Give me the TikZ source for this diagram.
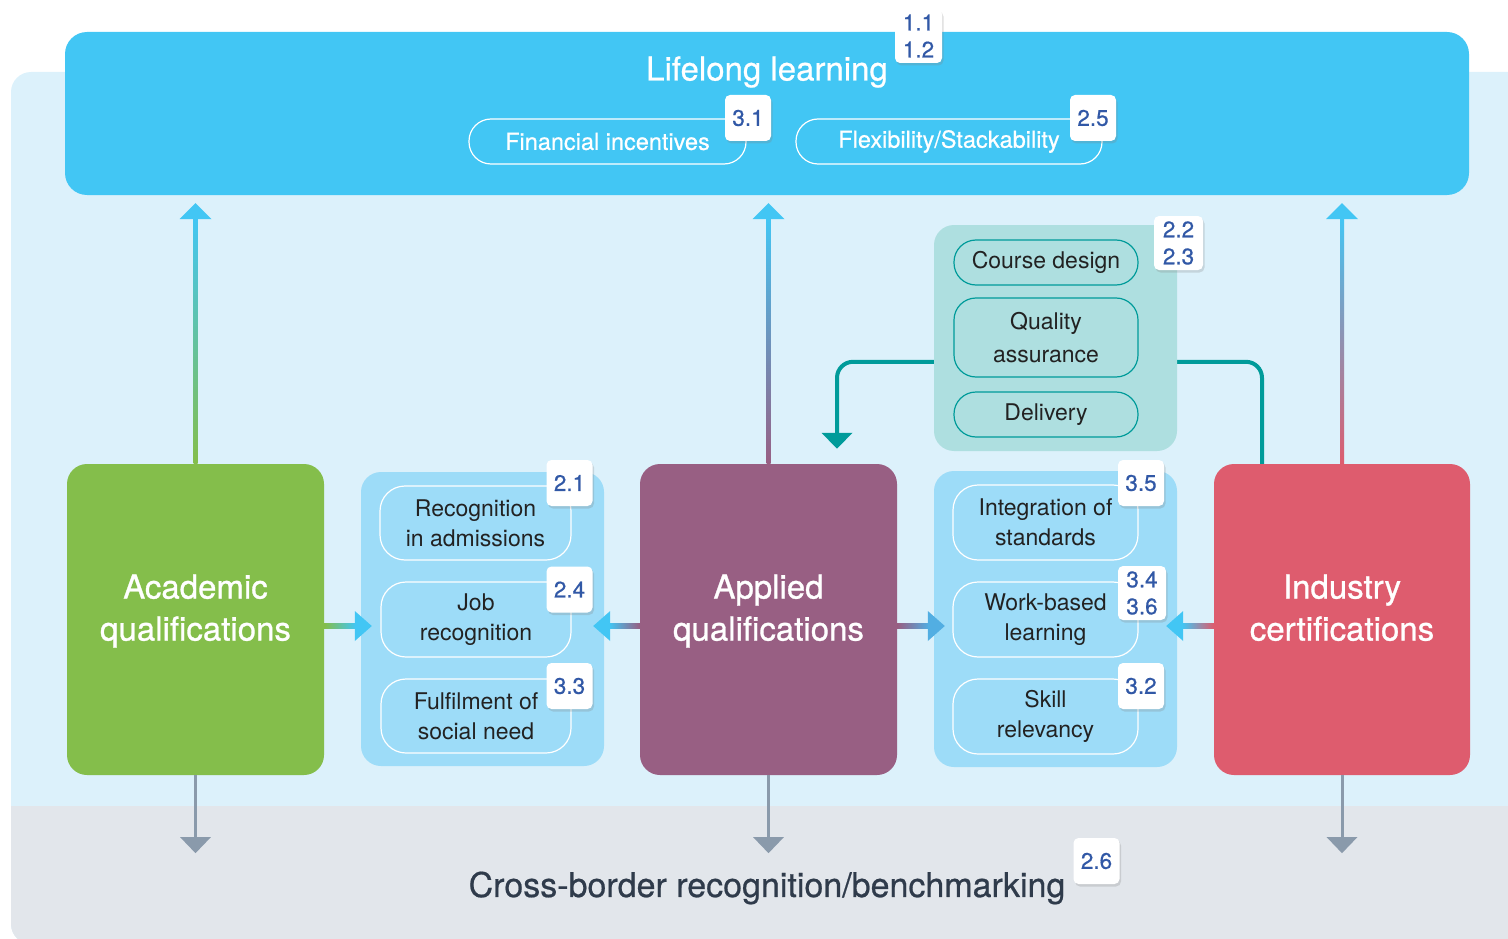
\documentclass[tikz,border=0pt]{standalone}
\usepackage{fontspec}
\setmainfont{TeX Gyre Heros}
\newfontface\medf[FakeBold=0.6]{TeX Gyre Heros}
\newfontface\semif[FakeBold=0.9]{TeX Gyre Heros}
\usetikzlibrary{shadows,arrows.meta,calc}
\definecolor{lifec}{HTML}{42C6F4}
\definecolor{bgblue}{HTML}{DCF1FB}
\definecolor{bggray}{HTML}{E2E6EB}
\definecolor{acadc}{HTML}{84BE4B}
\definecolor{applc}{HTML}{985F83}
\definecolor{indc}{HTML}{DE5C6E}
\definecolor{panelc}{HTML}{9DDCF8}
\definecolor{tealbox}{HTML}{AEDFE0}
\definecolor{tealline}{HTML}{009B9A}
\definecolor{badgec}{HTML}{3158A6}
\definecolor{darktxt}{HTML}{222222}
\definecolor{bottomtxt}{HTML}{2F3B4B}
\definecolor{grayarr}{HTML}{8A9AAB}
\definecolor{midblue}{HTML}{52AEE2}
\tikzset{
  bigbox/.style={rectangle, rounded corners=20pt, minimum width=257pt,
    minimum height=311pt, inner sep=0pt},
  bigtxt/.style={text=white, align=center, inner sep=0pt, text depth=0pt,
    font=\fontsize{33}{42}\semif},
  panel/.style={rectangle, rounded corners=20pt, inner sep=0pt},
  pillw/.style={rectangle, rounded corners=22pt, draw=white, line width=1.2pt,
    text=white, minimum height=45pt, inner sep=0pt, font=\fontsize{23.5}{28}\medf},
  pillp/.style={rectangle, rounded corners=25pt, draw=white, line width=1.2pt,
    text=darktxt, align=center, minimum width=190pt, minimum height=75pt, inner sep=0pt,
    font=\fontsize{23}{30}\selectfont},
  pillt/.style={rectangle, rounded corners=22pt, draw=tealline, line width=1.2pt,
    text=darktxt, align=center, minimum width=184pt, inner sep=0pt,
    font=\fontsize{23}{33}\selectfont},
  badge/.style={rectangle, rounded corners=5pt, fill=white, text=badgec, align=center,
    minimum width=46pt, minimum height=46pt, inner sep=0pt,
    font=\fontsize{22.5}{27}\medf,
    drop shadow={shadow xshift=1.5pt, shadow yshift=-2.5pt, opacity=0.25}},
  grayarrow/.style={draw=grayarr, line width=3pt, -{Triangle[width=30pt,length=16pt]}},
  tealarrow/.style={draw=tealline, line width=4pt, rounded corners=16pt,
    -{Triangle[width=30pt,length=16pt]}},
}
\begin{document}
\begin{tikzpicture}[x=1pt,y=-1pt]
\useasboundingbox (0,0) rectangle (1508,939);
% background
\fill[bgblue, rounded corners=20pt] (11,72) rectangle (1540,944);
\begin{scope}
  \clip[rounded corners=20pt] (11,72) rectangle (1540,944);
  \fill[bggray] (0,806) rectangle (1600,1000);
\end{scope}

% top box
\node[rectangle, rounded corners=22pt, fill=lifec, minimum width=1404pt, minimum height=163pt, inner sep=0pt] (life) at (767,113.5) {};
\node[text=white, font=\fontsize{33}{40}\medf, inner sep=0pt] (lifet) at (767,72) {Lifelong learning};
\node[pillw, minimum width=277pt] (fin) at (607.5,141.5) {Financial incentives};
\node[pillw, minimum width=306pt] (flex) at (949,141.5) {Flexibility/Stackability};
\node[badge, minimum width=47pt, minimum height=54pt] (b11) at (918.5,36) {1.1\\1.2};
\node[badge] (b31) at (748,118) {3.1};
\node[badge] (b25) at (1093,118) {2.5};

% main boxes
\node[bigbox, fill=acadc] (acad) at (195.5,619.5) {};
\node[bigbox, fill=applc] (appl) at (768.5,619.5) {};
\node[bigbox, fill=indc, minimum width=256pt] (ind) at (1342,619.5) {};
\node[bigtxt] (acadl) at ($(acad.center)+(0,-12)$) {Academic\\qualifications};
\node[bigtxt] (appll) at ($(appl.center)+(0,-12)$) {Applied\\qualifications};
\node[bigtxt] (indl) at ($(ind.center)+(0,-12)$) {Industry\\certifications};

% teal connector (behind teal box)
\coordinate (tstart) at ($(ind.north)+(-80,0)$);
\coordinate (tend) at ($(appl.north)+(68.5,-15)$);
\draw[tealarrow] (tstart) -- ($(tstart)+(0,-102)$) -- ($(tend)+(0,-87)$) -- (tend);

% panels
\node[panel, fill=panelc, minimum width=243pt, minimum height=294pt] (lp) at (482.5,619) {};
\node[panel, fill=panelc, minimum width=243pt, minimum height=296pt] (rp) at (1055.5,619) {};
\node[panel, fill=tealbox, minimum width=243pt, minimum height=226pt] (tp) at (1055.5,338) {};

% left panel pills
\node[pillp, minimum width=191pt, minimum height=74pt] (rec) at (475.5,523) {Recognition\\in admissions};
\node[pillp] (job) at (476,619.5) {Job\\recognition};
\node[pillp, minimum height=74pt] (ful) at (476,716) {Fulfilment of\\social need};
\node[badge] (b21) at (569.5,483) {2.1};
\node[badge] (b24) at (569.5,589.5) {2.4};
\node[badge] (b33) at (569.5,686) {3.3};

% right panel pills
\node[pillp, minimum width=185pt] (integ) at (1045.5,522.5) {Integration of\\standards};
\node[pillp, minimum width=185pt] (work) at (1045.5,619.5) {Work-based\\learning};
\node[pillp, minimum width=185pt] (skill) at (1045.5,716.5) {Skill\\relevancy};
\node[badge] (b35) at (1141,483) {3.5};
\node[badge, minimum width=48pt, minimum height=54pt] (b34) at (1142,593) {3.4\\3.6};
\node[badge] (b32) at (1141,686) {3.2};

% teal panel pills
\node[pillt, minimum height=45pt] (course) at (1046,262.5) {Course design};
\node[pillt, minimum height=79pt] (qa) at (1046,337.5) {Quality\\assurance};
\node[pillt, minimum height=45pt] (deliv) at (1046,414.5) {Delivery};
\node[badge, minimum width=49pt, minimum height=54pt] (b22) at (1178.5,243) {2.2\\2.3};

% up arrows (gradient)
\foreach \bx/\bc in {acad/acadc, appl/applc, ind/indc}{
  \coordinate (tip) at ($(\bx.north |- life.south)+(0,8)$);
  \shade[bottom color=\bc, top color=lifec] ($(\bx.north)+(-2,0)$) rectangle ($(tip)+(2,15)$);
  \fill[lifec] ($(tip)+(-16,16)$) -- (tip) -- ($(tip)+(16,16)$) -- cycle;
}

% horizontal arrows
\coordinate (h1) at ($(acad.east)+(0,6.5)$);
\coordinate (h1t) at ($(lp.west |- h1)+(11,0)$);
\shade[left color=acadc, right color=lifec] ($(h1)+(0,-2.5)$) rectangle ($(h1t)+(-16,2.5)$);
\fill[lifec] ($(h1t)+(-17,-15)$) -- (h1t) -- ($(h1t)+(-17,15)$) -- cycle;

\coordinate (h2) at ($(appl.west)+(0,6.5)$);
\coordinate (h2t) at ($(lp.east |- h2)+(-11,0)$);
\shade[right color=applc, left color=lifec] ($(h2)+(0,-2.5)$) rectangle ($(h2t)+(16,2.5)$);
\fill[lifec] ($(h2t)+(17,-15)$) -- (h2t) -- ($(h2t)+(17,15)$) -- cycle;

\coordinate (h3) at ($(appl.east)+(0,6.5)$);
\coordinate (h3t) at ($(rp.west |- h3)+(11,0)$);
\shade[left color=applc, right color=midblue] ($(h3)+(0,-2.5)$) rectangle ($(h3t)+(-16,2.5)$);
\fill[midblue] ($(h3t)+(-17,-15)$) -- (h3t) -- ($(h3t)+(-17,15)$) -- cycle;

\coordinate (h4) at ($(ind.west)+(0,6.5)$);
\coordinate (h4t) at ($(rp.east |- h4)+(-11,0)$);
\shade[right color=indc, left color=lifec] ($(h4)+(0,-2.5)$) rectangle ($(h4t)+(16,2.5)$);
\fill[lifec] ($(h4t)+(17,-15)$) -- (h4t) -- ($(h4t)+(17,15)$) -- cycle;

% bottom
\node[text=bottomtxt, font=\fontsize{34}{40}\medf, inner sep=0pt] (cross) at (767,888) {Cross-border recognition/benchmarking};
\node[badge] (b26) at (1096.5,861) {2.6};
\foreach \bx in {acad, appl, ind}{
  \draw[grayarrow] (\bx.south) -- ($(\bx.south)+(0,78)$);
}
\end{tikzpicture}
\end{document}
